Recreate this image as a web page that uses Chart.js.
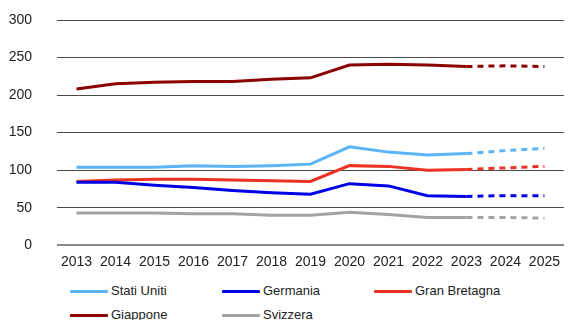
<!DOCTYPE html>
<html>
<head>
<meta charset="utf-8">
<script src="https://cdn.jsdelivr.net/npm/chart.js@4"></script>
<style>
  html, body { margin: 0; padding: 0; background: #fff; }
  #wrap { position: relative; width: 569px; height: 320px; overflow: hidden; font-family: "Liberation Sans", Arial, sans-serif; }
  #chart { position: absolute; left: 0; top: 0; }
  .leg { position: absolute; font-size: 13px; color: #222; white-space: nowrap; line-height: 16px; }
  .leg span.sw { position: absolute; left: -41px; top: 7px; width: 38px; height: 3px; border-radius: 1px; }
</style>
</head>
<body>
<div id="wrap">
  <canvas id="chart" width="569" height="282"></canvas>
  <div id="legend"></div>
</div>
<script>
const years = ['2013', '2014', '2015', '2016', '2017', '2018', '2019', '2020', '2021', '2022', '2023', '2024', '2025'];

const statiUniti = [104, 104, 104, 106, 105, 106, 108, 131, 124, 120, 122, 126, 129];
const germania = [84, 84, 80, 77, 73, 70, 68, 82, 79, 66, 65, 66, 66];
const granBretagna = [85, 87, 88, 88, 87, 86, 85, 106, 105, 100, 101, 103, 105];
const giappone = [208, 215, 217, 218, 218, 221, 223, 240, 241, 240, 238, 239, 238];
const svizzera = [43, 43, 43, 42, 42, 40, 40, 44, 41, 37, 37, 37, 36];

const yTicks = [0, 50, 100, 150, 200, 250, 300];

// last actual year; everything after it is a forecast (dashed)
const lastActual = years.indexOf('2023');

const series = [
    { label: 'Stati Uniti', data: statiUniti, color: '#5ab4f7' },
    { label: 'Germania', data: germania, color: '#0000e6' },
    { label: 'Gran Bretagna', data: granBretagna, color: '#ec3222' },
    { label: 'Giappone', data: giappone, color: '#8b0000' },
    { label: 'Svizzera', data: svizzera, color: '#a3a3a3' }
];

const axisFont = { family: '"Liberation Sans", Arial, sans-serif', size: 14 };

const ctx = document.getElementById('chart').getContext('2d');
new Chart(ctx, {
    type: 'line',
    data: {
        labels: years,
        datasets: series.map(s => ({
            label: s.label,
            data: s.data,
            borderColor: s.color,
            backgroundColor: s.color,
            borderWidth: 3,
            pointRadius: 0,
            tension: 0,
            borderCapStyle: 'butt',
            segment: {
                borderDash: c => c.p0DataIndex >= lastActual ? [6, 5] : undefined
            }
        }))
    },
    options: {
        responsive: false,
        animation: false,
        events: [],
        layout: { padding: { top: 20, right: 0, bottom: 2, left: 0 } },
        plugins: {
            legend: { display: false },
            tooltip: { enabled: false }
        },
        scales: {
            x: {
                offset: true,
                grid: { display: false, drawTicks: false },
                border: { display: false },
                ticks: {
                    color: '#222',
                    font: axisFont,
                    padding: 9,
                    maxRotation: 0,
                    autoSkip: false
                }
            },
            y: {
                min: 0,
                max: 300,
                afterBuildTicks: axis => { axis.ticks = yTicks.map(v => ({ value: v })); },
                afterFit: axis => { axis.width = 57; },
                grid: {
                    color: c => c.tick.value === 0 ? '#8a8a8a' : '#4a4a4a',
                    lineWidth: c => c.tick.value === 0 ? 2 : 1,
                    // invisible tick marks push the labels away from the plot
                    tickLength: 25,
                    tickColor: 'transparent'
                },
                border: { display: false },
                ticks: {
                    color: '#222',
                    font: axisFont,
                    padding: 0
                }
            }
        }
    }
});

// legend laid out on a fixed grid: three columns, two rows
const legendEl = document.getElementById('legend');
const colX = [111, 263, 415];
const rowY = [283, 307];
series.forEach((s, i) => {
    const item = document.createElement('div');
    item.className = 'leg';
    item.style.left = colX[i % 3] + 'px';
    item.style.top = rowY[Math.floor(i / 3)] + 'px';
    item.innerHTML = '<span class="sw" style="background:' + s.color + '"></span>' + s.label;
    legendEl.appendChild(item);
});
</script>
</body>
</html>
